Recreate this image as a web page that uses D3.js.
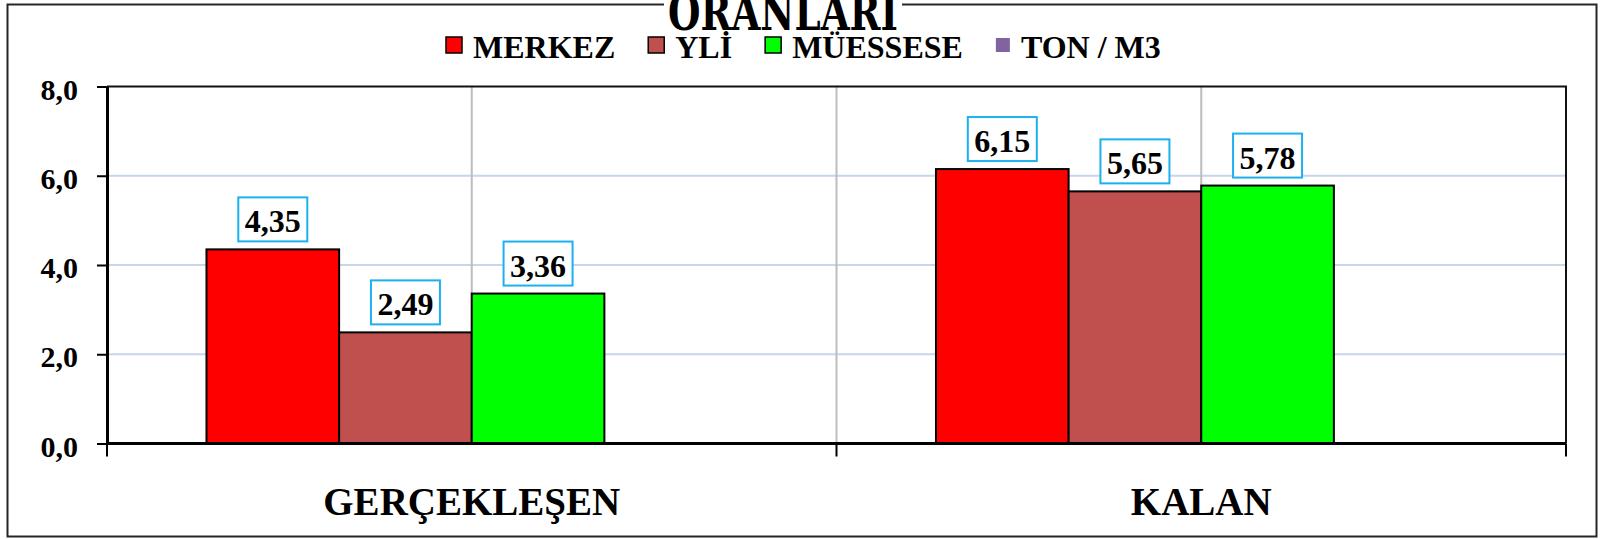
<!DOCTYPE html>
<html>
<head>
<meta charset="utf-8">
<script src="https://cdn.jsdelivr.net/npm/d3@7"></script>
<style>
  html, body { margin: 0; padding: 0; background: #fff; }
  svg { display: block; font-family: "Liberation Serif", "Times New Roman", serif; font-weight: bold; }
</style>
</head>
<body>
<svg id="chart" width="1602" height="539"></svg>
<script>
"use strict";

// categories on the x axis
const categories = [ 'GERÇEKLEŞEN', 'KALAN' ];

// series names (legend order)
const seriesNames = [ 'MERKEZ', 'YLİ', 'MÜESSESE', 'TON / M3' ];

// values per series, one per category (TON / M3 has no bars)
const merkez   = [ 4.35, 6.15 ];
const yli      = [ 2.49, 5.65 ];
const muessese = [ 3.36, 5.78 ];
const tonM3    = [ null, null ];

// y axis ticks
const yTicks = [ 0, 2, 4, 6, 8 ];

const title = 'ORANLARI';

const seriesColors = [ '#ff0000', '#c0504d', '#00ff00', '#8064a2' ];

const series = [ merkez, yli, muessese, tonM3 ];

// geometry
const W = 1602, H = 539;
const margin = { left: 107, right: 36, top: 86.5, bottom: 95.5 };

const svg = d3.select( '#chart' );

svg.append( 'rect' )
   .attr( 'width', W ).attr( 'height', H )
   .attr( 'fill', '#fff' );

// outer frame
svg.append( 'rect' )
   .attr( 'x', 7.5 ).attr( 'y', 4.5 )
   .attr( 'width', 1589 ).attr( 'height', 532 )
   .attr( 'fill', 'none' )
   .attr( 'stroke', '#262626' )
   .attr( 'stroke-width', 2 );

// scales
const x = d3.scaleBand()
            .domain( categories )
            .range( [ margin.left, W - margin.right ] )
            .padding( 0 );

const xInner = d3.scaleBand()
                 .domain( d3.range( series.length ) )
                 .range( [ 0, x.bandwidth() ] )
                 .paddingInner( 0 )
                 .paddingOuter( 0.75 );

const y = d3.scaleLinear()
            .domain( [ 0, 8 ] )
            .range( [ H - margin.bottom, margin.top ] );

const fmt = (v, digits) => v.toFixed( digits ).replace( '.', ',' );

// horizontal gridlines
svg.append( 'g' )
   .selectAll( 'line' )
   .data( yTicks.filter( t => t > 0 && t < 8 ) )
   .enter().append( 'line' )
     .attr( 'x1', margin.left ).attr( 'x2', W - margin.right )
     .attr( 'y1', d => y( d ) ).attr( 'y2', d => y( d ) )
     .attr( 'stroke', '#c8d5ee' )
     .attr( 'stroke-width', 2 );

// vertical gray lines at band centres and inner borders
const vLines = categories.map( c => x( c ) + x.bandwidth() / 2 )
                         .concat( categories.slice( 1 ).map( c => x( c ) ) );
svg.append( 'g' )
   .selectAll( 'line' )
   .data( vLines )
   .enter().append( 'line' )
     .attr( 'x1', d => d ).attr( 'x2', d => d )
     .attr( 'y1', y( 8 ) ).attr( 'y2', y( 0 ) )
     .attr( 'stroke', '#bdbdbd' )
     .attr( 'stroke-width', 2 );

// plot area top and right border
svg.append( 'path' )
   .attr( 'd', `M ${margin.left},${y( 8 )} H ${W - margin.right} V ${y( 0 )}` )
   .attr( 'fill', 'none' )
   .attr( 'stroke', '#111' )
   .attr( 'stroke-width', 2 );

// bars
const barData = [];
series.forEach( (s, si) => s.forEach( (v, ci) => {
  if( v == null ) { return }
  barData.push( { si, ci, v } );
}) );

svg.append( 'g' )
   .selectAll( 'rect' )
   .data( barData )
   .enter().append( 'rect' )
     .attr( 'x', d => x( categories[ d.ci ] ) + xInner( d.si ) )
     .attr( 'y', d => y( d.v ) )
     .attr( 'width', xInner.bandwidth() )
     .attr( 'height', d => y( 0 ) - y( d.v ) )
     .attr( 'fill', d => seriesColors[ d.si ] )
     .attr( 'stroke', '#000' )
     .attr( 'stroke-width', 2 );

// y axis
const yAxis = d3.axisLeft( y )
                .tickValues( yTicks )
                .tickFormat( d => fmt( d, 1 ) )
                .tickSize( 10 )
                .tickSizeOuter( 0 )
                .tickPadding( 19 );
const gy = svg.append( 'g' )
              .attr( 'transform', `translate(${margin.left},0)` )
              .call( yAxis );
gy.select( '.domain' ).attr( 'stroke', '#000' ).attr( 'stroke-width', 3 );
gy.selectAll( '.tick line' ).attr( 'stroke', '#000' ).attr( 'stroke-width', 2 );
gy.selectAll( '.tick text' )
  .attr( 'fill', '#000' )
  .attr( 'dy', '0.42em' )
  .style( 'font-size', '30px' )
  .style( 'font-family', '"Liberation Serif", serif' )
  .style( 'font-weight', 'bold' );

// x axis: ticks at band borders, labels at band centres
const xEdges = categories.map( c => x( c ) ).concat( [ W - margin.right ] );
svg.append( 'line' )
   .attr( 'x1', margin.left ).attr( 'x2', W - margin.right )
   .attr( 'y1', y( 0 ) ).attr( 'y2', y( 0 ) )
   .attr( 'stroke', '#000' )
   .attr( 'stroke-width', 3 );
svg.append( 'g' )
   .selectAll( 'line' )
   .data( xEdges )
   .enter().append( 'line' )
     .attr( 'x1', d => d ).attr( 'x2', d => d )
     .attr( 'y1', y( 0 ) ).attr( 'y2', y( 0 ) + 13 )
     .attr( 'stroke', '#000' )
     .attr( 'stroke-width', 2 );
svg.append( 'g' )
   .selectAll( 'text' )
   .data( categories )
   .enter().append( 'text' )
     .attr( 'x', d => x( d ) + x.bandwidth() / 2 )
     .attr( 'y', 515 )
     .attr( 'text-anchor', 'middle' )
     .style( 'font-size', '39px' )
     .text( d => d );

// value labels in light blue boxes
const labels = svg.append( 'g' )
                  .selectAll( 'g' )
                  .data( barData )
                  .enter().append( 'g' )
                    .attr( 'transform', d => `translate(${x( categories[ d.ci ] ) + xInner( d.si ) + xInner.bandwidth() / 2},${y( d.v ) - 8})` );
labels.append( 'rect' )
      .attr( 'fill', '#fff' )
      .attr( 'stroke', '#1cb0ef' )
      .attr( 'stroke-width', 2 );
labels.append( 'text' )
      .attr( 'text-anchor', 'middle' )
      .attr( 'y', -9 )
      .style( 'font-size', '32px' )
      .text( d => fmt( d.v, 2 ) );
labels.each( function(){
  const g = d3.select( this ),
        w = g.select( 'text' ).node().getComputedTextLength() + 13;
  g.select( 'rect' )
   .attr( 'x', -w / 2 ).attr( 'y', -44 )
   .attr( 'width', w ).attr( 'height', 44 );
});

// legend
const legend = svg.append( 'g' );
let lx = 446;
seriesNames.forEach( (name, i) => {
  const last = i === seriesNames.length - 1;
  legend.append( 'rect' )
        .attr( 'x', lx ).attr( 'y', last ? 38 : 37 )
        .attr( 'width', last ? 14 : 16 ).attr( 'height', last ? 14 : 16 )
        .attr( 'fill', seriesColors[ i ] )
        .attr( 'stroke', last ? 'none' : '#000' )
        .attr( 'stroke-width', 1.5 );
  const t = legend.append( 'text' )
                  .attr( 'x', lx + ( last ? 25 : 27 ) )
                  .attr( 'y', 58 )
                  .style( 'font-size', '32px' )
                  .text( name );
  lx += ( last ? 25 : 27 ) + t.node().getComputedTextLength() + 33;
});

// title, partly cut off at the top
svg.append( 'rect' )
   .attr( 'x', 664 ).attr( 'y', 0 )
   .attr( 'width', 238 ).attr( 'height', 12 )
   .attr( 'fill', '#fff' );
svg.append( 'text' )
   .attr( 'x', 668 )
   .attr( 'y', 30 )
   .attr( 'textLength', 230 )
   .attr( 'lengthAdjust', 'spacingAndGlyphs' )
   .style( 'font-family', '"DejaVu Serif", serif' )
   .style( 'font-size', '50px' )
   .style( 'font-weight', 'bold' )
   .text( title );
</script>
</body>
</html>
